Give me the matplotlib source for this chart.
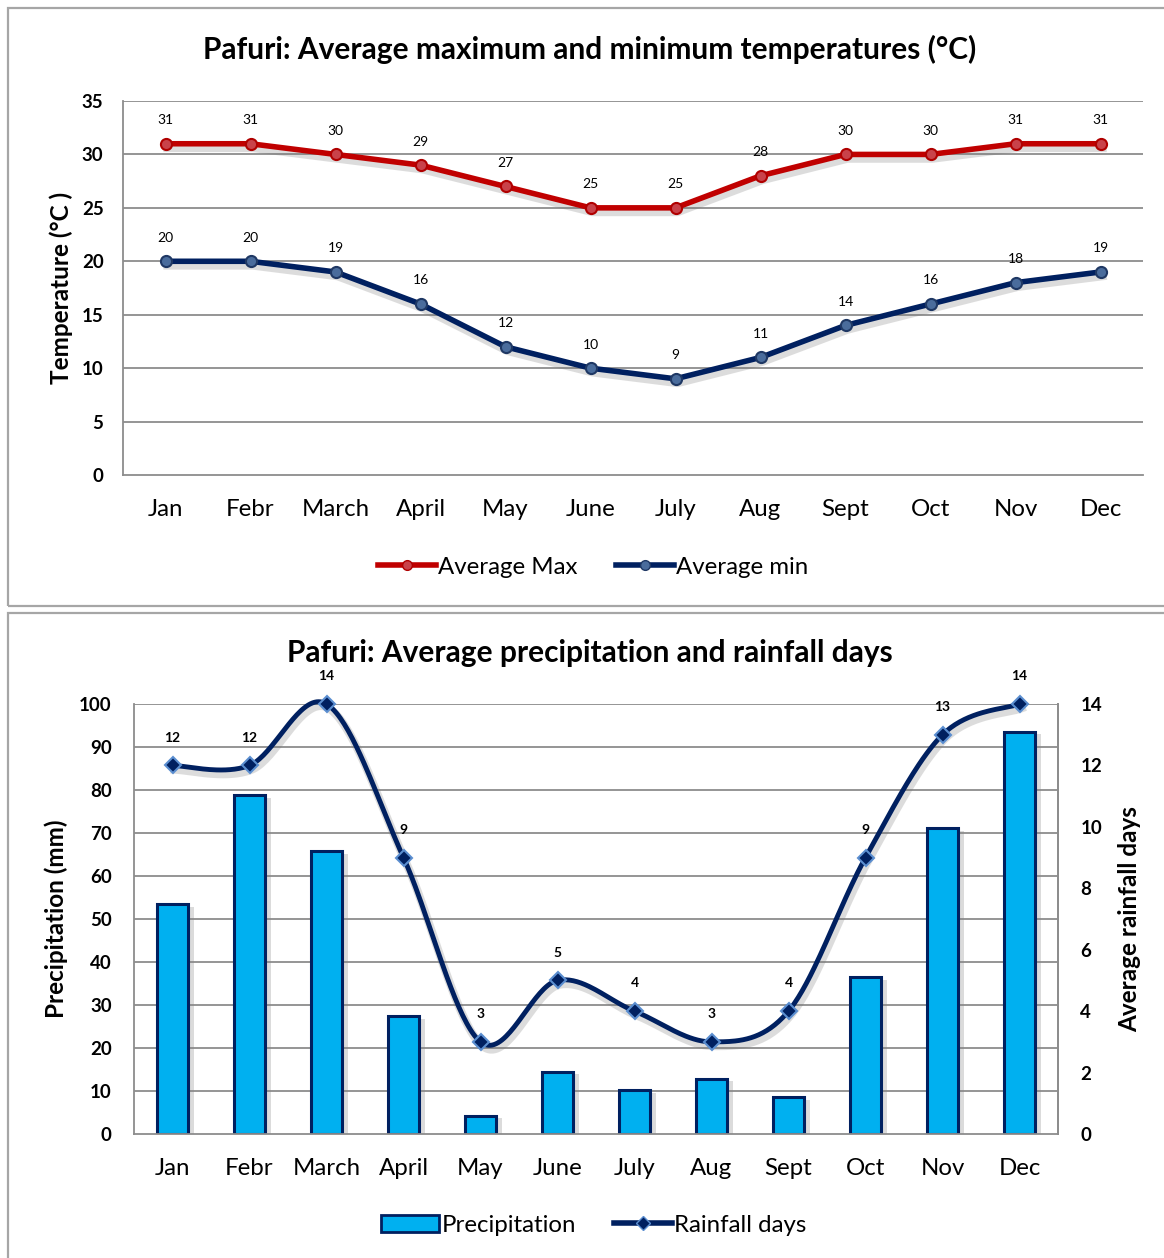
import numpy as np
import matplotlib
matplotlib.use("Agg")
import matplotlib.pyplot as plt
import matplotlib.patheffects as pe
from matplotlib.patches import Rectangle
from matplotlib.lines import Line2D
from matplotlib.patches import Patch

plt.rcParams['font.family'] = ['Lato', 'DejaVu Sans']

months = ["Jan", "Febr", "March", "April", "May", "June", "July", "Aug", "Sept", "Oct", "Nov", "Dec"]
avg_max = [31, 31, 30, 29, 27, 25, 25, 28, 30, 30, 31, 31]
avg_min = [20, 20, 19, 16, 12, 10, 9, 11, 14, 16, 18, 19]
precip = [53.5, 78.8, 65.8, 27.5, 4.3, 14.5, 10.2, 12.9, 8.5, 36.4, 71.2, 93.6]
rain_days = [12, 12, 14, 9, 3, 5, 4, 3, 4, 9, 13, 14]

W, H = 1164, 1258
fig = plt.figure(figsize=(W / 100, H / 100), dpi=100)

def fx(px):
    return px / W

def fy(py):
    return 1 - py / H

# panel frames
fig.patches.append(Rectangle((fx(8), fy(606)), fx(1200 - 8), (606 - 8) / H,
                             transform=fig.transFigure, fill=False, ec='#a6a6a6', lw=1.6))
fig.patches.append(Rectangle((fx(8), fy(1270)), fx(1200 - 8), (1270 - 613) / H,
                             transform=fig.transFigure, fill=False, ec='#a6a6a6', lw=1.6))

grid_c = '#8c8c8c'
x = np.arange(len(months))
TICK_FS = 13.5
XT_FS = 17.3
LAB_FS = 17.5
TITLE_FS = 21.5

def line_fx():
    return [pe.SimpleLineShadow(offset=(1.5, -3), shadow_color='#777777', alpha=0.25, linewidth=6),
            pe.Normal()]

# ---------- Top chart ----------
ax1 = fig.add_axes([fx(123), fy(475), fx(1143 - 123), (475 - 101) / H])
ax1.set_xlim(-0.5, 11.5)
ax1.set_ylim(0, 35)
ax1.set_yticks(range(0, 36, 5))
for yv in range(5, 36, 5):
    ax1.axhline(yv, color=grid_c, lw=1.3, zorder=0)
for s in ['top', 'right']:
    ax1.spines[s].set_visible(False)
for s in ['left', 'bottom']:
    ax1.spines[s].set_color(grid_c)
    ax1.spines[s].set_linewidth(1.3)
ax1.tick_params(length=0)
ax1.set_xticks(x)
ax1.set_xticklabels(months, fontsize=XT_FS)
ax1.tick_params(axis='x', pad=17)
ax1.tick_params(axis='y', pad=14)
for lab in ax1.get_yticklabels():
    lab.set_fontweight('bold')
    lab.set_fontsize(TICK_FS)
ax1.set_ylabel("Temperature (°C )", fontsize=LAB_FS, fontweight='bold', labelpad=6)

ax1.plot(x, avg_max, color='#c00000', lw=4, path_effects=line_fx(), zorder=3)
ax1.plot(x, avg_max, ls='none', marker='o', ms=8, mfc='#c9424a', mec='#b00000', mew=1.5, zorder=4)
ax1.plot(x, avg_min, color='#002060', lw=4, path_effects=line_fx(), zorder=3)
ax1.plot(x, avg_min, ls='none', marker='o', ms=8, mfc='#4a6c9c', mec='#1f3864', mew=1.5, zorder=4)
for xi, v in zip(x, avg_max):
    ax1.annotate(str(v), (xi, v), xytext=(0, 17), textcoords='offset points',
                 ha='center', va='center', fontsize=10)
for xi, v in zip(x, avg_min):
    ax1.annotate(str(v), (xi, v), xytext=(0, 17), textcoords='offset points',
                 ha='center', va='center', fontsize=10)

fig.text(fx(590), fy(49), "Pafuri: Average maximum and minimum temperatures (°C)",
         ha='center', va='center', fontsize=TITLE_FS, fontweight='bold')

h1 = [Line2D([], [], color='#c00000', lw=4, marker='o', ms=7, mfc='#c9424a', mec='#b00000'),
      Line2D([], [], color='#002060', lw=4, marker='o', ms=7, mfc='#4a6c9c', mec='#1f3864')]
fig.legend(h1, ["Average Max", "Average min"], loc='center', bbox_to_anchor=(fx(593), fy(567)),
           ncol=2, frameon=False, fontsize=XT_FS, handlelength=2.4, handletextpad=0.1,
           columnspacing=1.6)

# ---------- Bottom chart ----------
ax2 = fig.add_axes([fx(134), fy(1134), fx(1058 - 134), (1134 - 704) / H])
ax2.set_xlim(-0.5, 11.5)
ax2.set_ylim(0, 100)
ax2.set_yticks(range(0, 101, 10))
for yv in range(10, 101, 10):
    ax2.axhline(yv, color=grid_c, lw=1.3, zorder=0)
ax2.spines['top'].set_visible(False)
for s in ['left', 'bottom', 'right']:
    ax2.spines[s].set_color(grid_c)
    ax2.spines[s].set_linewidth(1.3)
ax2.tick_params(length=0)
ax2.set_xticks(x)
ax2.set_xticklabels(months, fontsize=XT_FS)
ax2.tick_params(axis='x', pad=17)
ax2.tick_params(axis='y', pad=16)
for lab in ax2.get_yticklabels():
    lab.set_fontweight('bold')
    lab.set_fontsize(TICK_FS)
ax2.set_ylabel("Precipitation (mm)", fontsize=LAB_FS, fontweight='bold', labelpad=8)

bars = ax2.bar(x, precip, width=0.41, color='#00b0f0', edgecolor='#002060', lw=2.2, zorder=2)
for b in bars:
    b.set_path_effects([pe.SimplePatchShadow(offset=(4, -2), shadow_rgbFace='#888888', alpha=0.3),
                        pe.Normal()])

ax3 = ax2.twinx()
ax3.set_ylim(0, 14)
ax3.set_yticks(range(0, 15, 2))
for s in ['top', 'left', 'bottom']:
    ax3.spines[s].set_visible(False)
ax3.spines['right'].set_color(grid_c)
ax3.spines['right'].set_linewidth(1.3)
ax3.tick_params(length=0, pad=16)
for lab in ax3.get_yticklabels():
    lab.set_fontweight('bold')
    lab.set_fontsize(TICK_FS)
ax3.set_ylabel("Average rainfall days", fontsize=LAB_FS, fontweight='bold', labelpad=12)

# smoothed line (Catmull-Rom via cubic Bezier, like Excel smoothing)
xs = x.astype(float)
ys = np.array(rain_days, dtype=float)
px_ = np.concatenate([[xs[0]], xs, [xs[-1]]])
py_ = np.concatenate([[ys[0]], ys, [ys[-1]]])
cx, cy = [], []
tt = np.linspace(0, 1, 40)
for i in range(1, len(px_) - 2):
    p0 = np.array([px_[i], py_[i]])
    p3 = np.array([px_[i + 1], py_[i + 1]])
    p1 = p0 + (np.array([px_[i + 1], py_[i + 1]]) - np.array([px_[i - 1], py_[i - 1]])) / 6
    p2 = p3 - (np.array([px_[i + 2], py_[i + 2]]) - np.array([px_[i], py_[i]])) / 6
    seg = ((1 - tt)[:, None] ** 3 * p0 + 3 * ((1 - tt) ** 2 * tt)[:, None] * p1
           + 3 * ((1 - tt) * tt ** 2)[:, None] * p2 + (tt ** 3)[:, None] * p3)
    cx.extend(seg[:, 0])
    cy.extend(seg[:, 1])
ax3.plot(cx, cy, color='#002060', lw=3.5, path_effects=line_fx(), zorder=3, clip_on=False)
ax3.plot(xs, ys, ls='none', marker='D', ms=8, mfc='#002060', mec='#5b8ed0', mew=1.5,
         zorder=4, clip_on=False)
for xi, v in zip(xs, ys):
    ax3.annotate(str(int(v)), (xi, v), xytext=(0, 20), textcoords='offset points',
                 ha='center', va='center', fontsize=10, fontweight='bold')

fig.text(fx(590), fy(653), "Pafuri: Average precipitation and rainfall days",
         ha='center', va='center', fontsize=TITLE_FS, fontweight='bold')

h2 = [Patch(facecolor='#00b0f0', edgecolor='#002060', lw=2),
      Line2D([], [], color='#002060', lw=4, marker='D', ms=7, mfc='#002060', mec='#5b8ed0')]
fig.legend(h2, ["Precipitation", "Rainfall days"], loc='center', bbox_to_anchor=(fx(594), fy(1225)),
           ncol=2, frameon=False, fontsize=XT_FS, handlelength=2.4, handletextpad=0.1,
           columnspacing=1.6)

fig.savefig("out.png", dpi=100)
